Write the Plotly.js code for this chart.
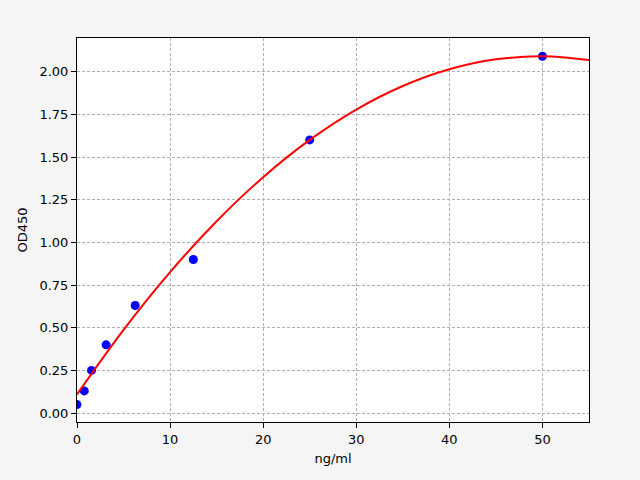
<!DOCTYPE html>
<html>
<head>
<meta charset="utf-8">
<script src="https://cdn.plot.ly/plotly-3.0.1.min.js"></script>
<style>
  body { margin: 0; background: #f5f5f5; }
  #plot { width: 640px; height: 480px; }
</style>
</head>
<body>
<div id="plot"></div>
<script>
// Measured standards
const conc = [0, 0.78, 1.56, 3.125, 6.25, 12.5, 25, 50];
const od = [0.05, 0.13, 0.25, 0.40, 0.63, 0.90, 1.60, 2.09];

// Fitted curve
const fitX = [0, 5, 10, 15, 20, 25, 30, 35, 40, 45, 50, 55];
const fitY = [0.110, 0.488, 0.826, 1.124, 1.382, 1.600, 1.778, 1.916, 2.014, 2.072, 2.090, 2.068];

const points = {
  x: conc, y: od,
  type: 'scatter',
  mode: 'markers',
  marker: { color: '#0000ff', size: 9 },
  hoverinfo: 'none'
};

const fit = {
  x: fitX, y: fitY,
  type: 'scatter',
  mode: 'lines',
  line: { color: '#ff0000', width: 2, shape: 'spline' },
  hoverinfo: 'none'
};

const axisBase = {
  showline: true,
  mirror: true,
  linecolor: 'black',
  linewidth: 1,
  ticks: 'outside',
  ticklen: 5,
  tickcolor: 'black',
  showgrid: true,
  gridcolor: '#b0b0b0',
  griddash: '3px,2px',
  gridwidth: 1,
  zeroline: false,
  tickfont: { family: 'DejaVu Sans', size: 13, color: 'black' }
};

const layout = {
  width: 640, height: 480,
  paper_bgcolor: '#f5f5f5',
  plot_bgcolor: 'white',
  showlegend: false,
  margin: { l: 77, r: 51, t: 38, b: 58 },
  xaxis: { ...axisBase, range: [0, 55], dtick: 10,
    title: { text: 'ng/ml', font: { family: 'DejaVu Sans', size: 13, color: 'black' }, standoff: 8 } },
  yaxis: { ...axisBase, range: [-0.052, 2.197], dtick: 0.25, tickformat: '.2f',
    title: { text: 'OD450', font: { family: 'DejaVu Sans', size: 13, color: 'black' }, standoff: 8 } }
};

Plotly.newPlot('plot', [points, fit], layout, { staticPlot: true });
</script>
</body>
</html>
